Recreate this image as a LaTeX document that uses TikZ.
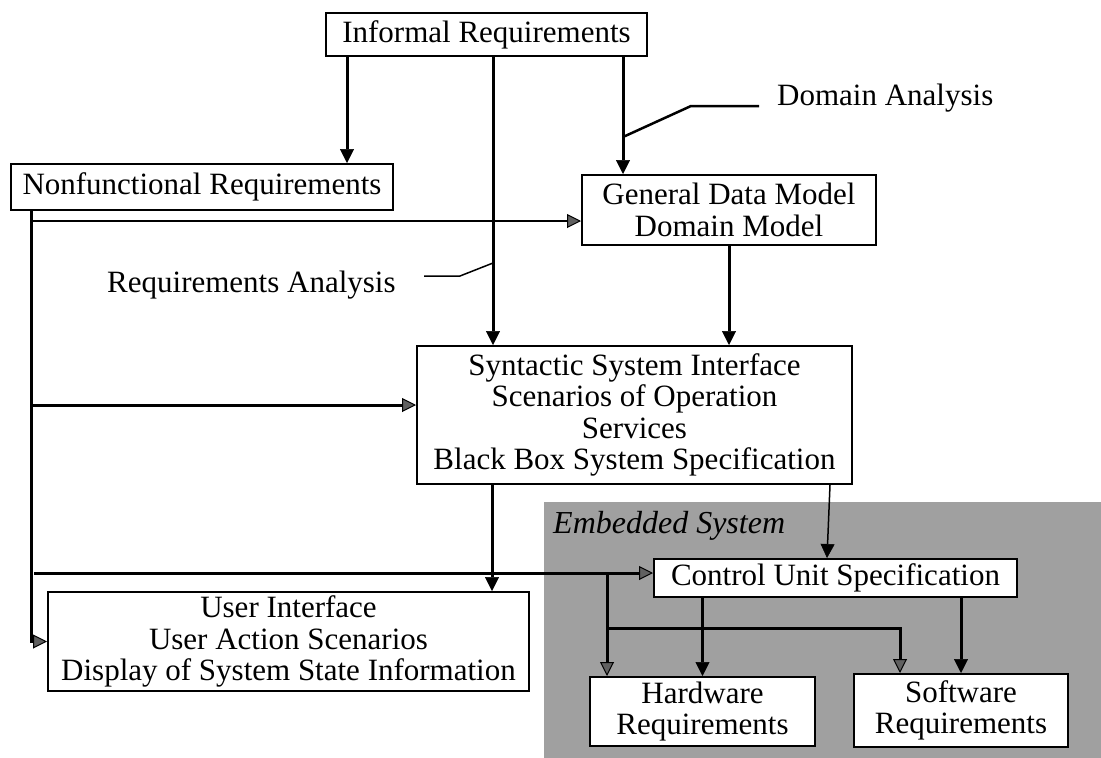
\documentclass[tikz,border=0pt]{standalone}
\usepackage{fontspec}
\setmainfont{Liberation Serif}
\usetikzlibrary{arrows.meta}
\definecolor{regiongray}{RGB}{160,160,160}
\definecolor{tipgray}{RGB}{96,96,96}
\begin{document}
\begin{tikzpicture}[x=1pt,y=-1pt,
  box/.style={draw=black, line width=2pt, fill=white, inner sep=0pt, align=center,
    font=\fontsize{31}{31.5}\selectfont},
  lbl/.style={inner sep=0pt, font=\fontsize{31}{31.5}\selectfont, anchor=base west},
  flow/.style={line width=3pt, -{Triangle[length=14pt,width=14pt,line width=0.5pt]}},
  flowthin/.style={line width=1.5pt, -{Triangle[length=14pt,width=14pt,line width=0.5pt]}},
  nflink/.style={line width=3pt, -{Triangle[length=14pt,width=14pt,line width=1pt,fill=tipgray]}},
  nflinkthin/.style={line width=1.5pt, -{Triangle[length=14pt,width=14pt,line width=1pt,fill=tipgray]}},
  leader/.style={line width=2.5pt},
  leaderthin/.style={line width=1.5pt}
]
\useasboundingbox (0,0) rectangle (1101,758);
\fill[regiongray] (544,502) rectangle (1101,758);

% boxes
\node[box, minimum width=321pt, minimum height=43pt] (ir) at (486.5,34.5) {Informal Requirements};
\node[box, minimum width=382pt, minimum height=46pt] (nf) at (202,187) {Nonfunctional Requirements};
\node[box, minimum width=294pt, minimum height=70pt] (gdm) at (729,210) {General Data Model\\Domain Model};
\node[box, minimum width=435pt, minimum height=138pt] (syn) at (634.5,415) {Syntactic System Interface\\Scenarios of Operation\\Services\\Black Box System Specification};
\node[box, minimum width=481pt, minimum height=99pt] (ui) at (288.5,641.5) {User Interface\\User Action Scenarios\\Display of System State Information};
\node[box, minimum width=363pt, minimum height=38pt] (cus) at (835.5,578) {Control Unit Specification};
\node[box, minimum width=225pt, minimum height=69pt] (hw) at (702.5,711.5) {Hardware\\Requirements};
\node[box, minimum width=214pt, minimum height=73pt] (sw) at (961,710.5) {Software\\Requirements};

% labels
\node[lbl] (ra) at (107,292) {Requirements Analysis};
\node[lbl] (da) at (777,105) {Domain Analysis};
\node[lbl, font=\fontsize{32}{32}\selectfont\itshape] (es) at (553,533) {Embedded System};

% helper coordinates
\coordinate (x1) at (347,0);
\coordinate (x2) at (493,0);
\coordinate (x3) at (623,0);
\coordinate (x4) at (492,0);
\coordinate (x5) at (830,0);
\coordinate (x6) at (827,0);
\coordinate (nfx) at (31,0);
\coordinate (g1) at (31,221);
\coordinate (s1) at (31,405);
\coordinate (c1) at (34,573);
\coordinate (b1) at (607,573);
\coordinate (b2) at (607,628);
\coordinate (b3) at (900,628);

% NF branch lines
\draw[nflink] (nf.south -| nfx) -- (nfx |- ui.west) -- (ui.west);
\draw[nflinkthin] (g1) -- (g1 -| gdm.west);
\draw[nflink] (s1) -- (s1 -| syn.west);
\draw[nflink] (c1) -- (c1 -| cus.west);
\draw[nflink] (b1) -- (b1 |- hw.north);
\draw[nflink] (b2) -- (b3) -- (b3 |- sw.north);

% main flow
\draw[flow] (ir.south -| x1) -- (x1 |- nf.north);
\draw[flow] (ir.south -| x2) -- (x2 |- syn.north);
\draw[flow] (ir.south -| x3) -- (x3 |- gdm.north);
\draw[flow] (gdm.south) -- (gdm.south |- syn.north);
\draw[flow] (syn.south -| x4) -- (x4 |- ui.north);
\draw[flowthin] (syn.south -| x5) -- (cus.north -| x6);
\draw[flow] (cus.south -| hw.north) -- (hw.north);
\draw[flow] (cus.south -| sw.north) -- (sw.north);

% leaders
\coordinate (dastart) at (759,106);
\coordinate (daknee) at (691,106);
\coordinate (daend) at (623,137);
\draw[leader] (dastart) -- (daknee) -- (daend);
\coordinate (rastart) at (424,276);
\coordinate (raknee) at (460,276);
\coordinate (raend) at (493,263);
\draw[leaderthin] (rastart) -- (raknee) -- (raend);
\end{tikzpicture}
\end{document}
